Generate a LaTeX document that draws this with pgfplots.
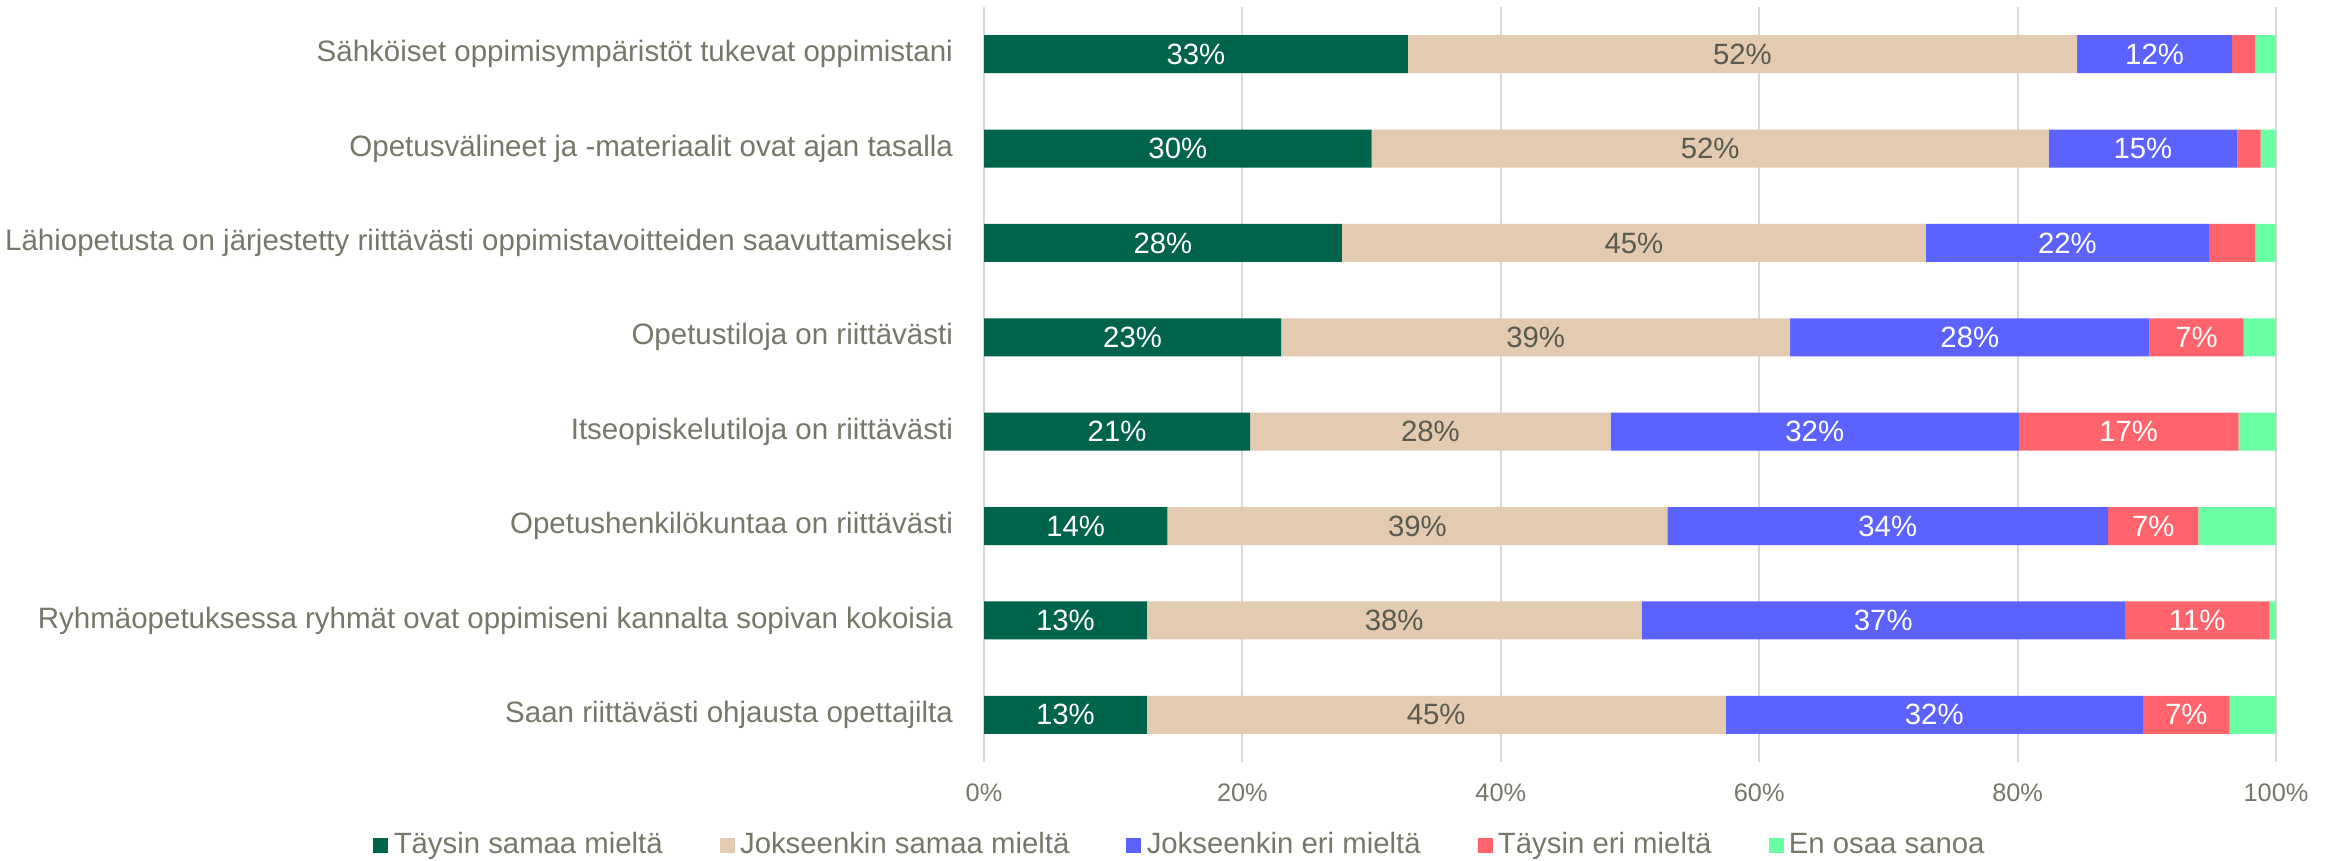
\documentclass[border=0pt]{standalone}
\usepackage{pgfplots}
\pgfplotsset{compat=1.18}
\usepackage{pgfplotstable}
\usepackage{fontspec}
\setmainfont{Liberation Sans}
\definecolor{cA}{HTML}{00634B}
\definecolor{cB}{HTML}{E2CBB0}
\definecolor{cC}{HTML}{5B62FF}
\definecolor{cD}{HTML}{FF636B}
\definecolor{cE}{HTML}{6BFFA4}
\definecolor{txt}{HTML}{747869}
\definecolor{dark}{HTML}{595A50}
\definecolor{gridc}{HTML}{D9D9D9}

\pgfplotstableread{
y x lab
0 32.8 33
1 30.0 30
2 27.7 28
3 23.0 23
4 20.6 21
5 14.2 14
6 12.6 13
7 12.6 13
}\tA
\pgfplotstableread{
y x lab
0 51.8 52
1 52.4 52
2 45.2 45
3 39.4 39
4 27.9 28
5 38.7 39
6 38.3 38
7 44.8 45
}\tB
\pgfplotstableread{
y x lab
0 12.0 12
1 14.6 15
2 21.9 22
3 27.8 28
4 31.6 32
5 34.1 34
6 37.4 37
7 32.3 32
}\tC
\pgfplotstableread{
y x lab
0 1.8 0
1 1.8 0
2 3.6 0
3 7.3 7
4 17.0 17
5 7.0 7
6 11.2 11
7 6.7 7
}\tD
\pgfplotstableread{
y x lab
0 1.6 0
1 1.2 0
2 1.6 0
3 2.5 0
4 2.9 0
5 6.0 0
6 0.5 0
7 3.6 0
}\tE

\begin{document}
\begin{tikzpicture}
\begin{axis}[
  at={(295.2pt,29.4pt)}, anchor=south west,
  scale only axis, width=387.6pt, height=226.5pt,
  xbar stacked, bar width=11.4pt,
  xmin=0, xmax=100, ymin=-0.5, ymax=7.5, y dir=reverse,
  enlargelimits=false,
  axis line style={draw=none},
  major tick length=0pt,
  xmajorgrids, grid style={draw=gridc, line width=0.6pt},
  xtick={0,20,40,60,80,100},
  /pgf/number format/assume math mode=true,
  xticklabel={\pgfmathprintnumber{\tick}\%},
  xticklabel style={font=\fontsize{7.6}{9}\selectfont, text=txt, anchor=north, yshift=-3pt},
  ytick={0,...,7},
  yticklabels={Sähköiset oppimisympäristöt tukevat oppimistani,
    Opetusvälineet ja -materiaalit ovat ajan tasalla,
    Lähiopetusta on järjestetty riittävästi oppimistavoitteiden saavuttamiseksi,
    Opetustiloja on riittävästi,
    Itseopiskelutiloja on riittävästi,
    Opetushenkilökuntaa on riittävästi,
    Ryhmäopetuksessa ryhmät ovat oppimiseni kannalta sopivan kokoisia,
    Saan riittävästi ohjausta opettajilta},
  yticklabel style={font=\fontsize{8.85}{10}\selectfont, text=txt, anchor=east, xshift=-5.8pt},
  point meta=explicit symbolic,
  nodes near coords={\ifnum\pgfplotspointmeta>0\relax\pgfplotspointmeta\%\fi},
  every node near coord/.append style={font=\fontsize{8.8}{10}\selectfont, text=white},
  legend columns=5,
  legend style={draw=none, fill=none, at={(0.1530,-0.111)}, anchor=center,
    font=\fontsize{8.8}{10}\selectfont, text=txt,
    /tikz/every even column/.append style={column sep=15.5pt},
    /tikz/every odd column/.append style={column sep=0pt},
    nodes={inner xsep=1.6pt}},
  legend cell align=left,
  legend image code/.code={\fill[#1] (0pt,-2.25pt) rectangle (4.5pt,2.25pt);},
]
\addplot[fill=cA, draw=none] table[x=x, y=y, meta=lab] {\tA};
\addplot[fill=cB, draw=none, every node near coord/.append style={text=dark}] table[x=x, y=y, meta=lab] {\tB};
\addplot[fill=cC, draw=none] table[x=x, y=y, meta=lab] {\tC};
\addplot[fill=cD, draw=none] table[x=x, y=y, meta=lab] {\tD};
\addplot[fill=cE, draw=none] table[x=x, y=y, meta=lab] {\tE};
\legend{Täysin samaa mieltä, Jokseenkin samaa mieltä, Jokseenkin eri mieltä, Täysin eri mieltä, En osaa sanoa}
\end{axis}
\pgfresetboundingbox
\useasboundingbox (0,0) rectangle (700.8pt,258pt);
\end{tikzpicture}
\end{document}
